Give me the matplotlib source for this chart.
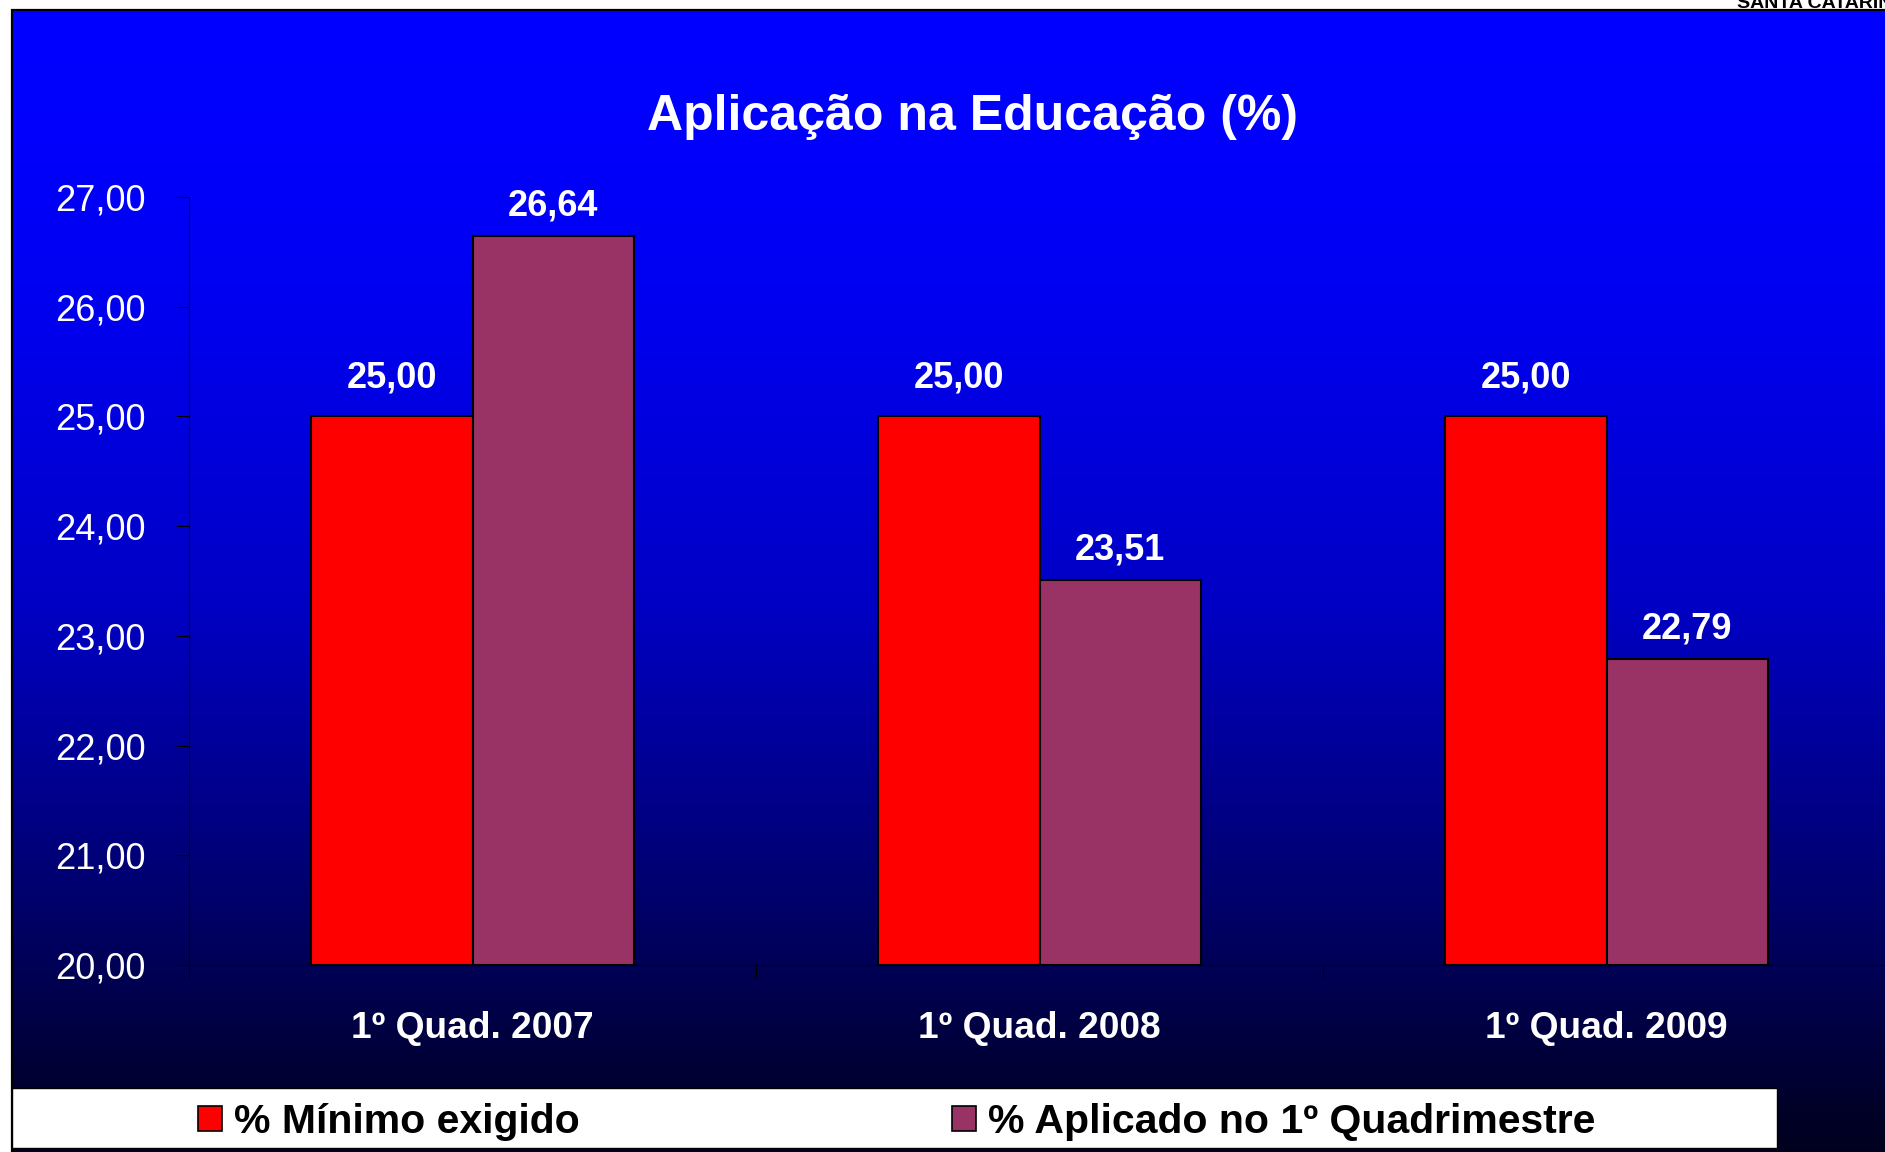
import numpy as np
import matplotlib
matplotlib.use("Agg")
import matplotlib.pyplot as plt
from matplotlib.patches import Patch, Rectangle

categories = ["1º Quad. 2007", "1º Quad. 2008", "1º Quad. 2009"]
minimo_exigido = [25.00, 25.00, 25.00]
aplicado = [26.64, 23.51, 22.79]
series_names = ["% Mínimo exigido", "% Aplicado no 1º Quadrimestre"]
y_ticks = [20, 21, 22, 23, 24, 25, 26, 27]
title = "Aplicação na Educação (%)"


def br(v):
    return f"{v:.2f}".replace(".", ",")


plt.rcParams["font.family"] = ["Liberation Sans", "DejaVu Sans"]

W, H = 1885, 1152
fig = plt.figure(figsize=(W / 100, H / 100), dpi=100)
fig.patch.set_facecolor("white")

# -----background panel (blue -> black gradient)-----
px_left, px_top = 12, 10
bg = fig.add_axes([px_left / W, 0, 1 - px_left / W, (H - px_top) / H], zorder=0)
rows = np.arange(px_top, H)
blue = np.interp(rows, [10, 150, 310, 610, 890, 1110, 1152],
                 [255, 252, 240, 195, 110, 40, 30]) / 255.0
grad = np.zeros((len(rows), 1, 3))
grad[:, 0, 2] = blue
bg.imshow(grad, aspect="auto", extent=[0, 1, 0, 1], interpolation="bilinear")
bg.set_xlim(0, 1)
bg.set_ylim(0, 1)
bg.axis("off")
fig.add_artist(Rectangle((px_left / W, -0.01), 1.0, (H - px_top) / H + 0.01,
                         transform=fig.transFigure, facecolor="none",
                         edgecolor="black", linewidth=1.6, zorder=1))

# header text of the page, cut off at the top edge like in the original
fig.text(1737 / W, 1 - 8 / H, "SANTA CATARINA", fontsize=14, fontweight="bold",
         color="black", ha="left", va="baseline")

# -----main chart-----
ax = fig.add_axes([189 / W, (H - 965) / H, (1890 - 189) / W, (965 - 197) / H], zorder=2)
ax.patch.set_alpha(0)

x = np.arange(len(categories))
bw = 0.284
ax.bar(x - bw / 2, [v - 20 for v in minimo_exigido], bw, bottom=20,
       color="#ff0000", edgecolor="black", linewidth=1.5, label=series_names[0])
ax.bar(x + bw / 2, [v - 20 for v in aplicado], bw, bottom=20,
       color="#993366", edgecolor="black", linewidth=1.5, label=series_names[1])

for xs, vals, off in ((x - bw / 2, minimo_exigido, 21), (x + bw / 2, aplicado, 15)):
    for xi, v in zip(xs, vals):
        ax.annotate(br(v), (xi, v), xytext=(0, off), textcoords="offset points",
                    ha="center", va="baseline", color="white",
                    fontsize=26, fontweight="bold")

ax.set_xlim(-0.5, 2.5)
ax.set_ylim(20, 27)
ax.set_yticks(y_ticks)
ax.set_yticklabels([br(v) for v in y_ticks])
ax.set_xticks(np.arange(len(categories) + 1) - 0.5)
ax.set_xticklabels([])
ax.set_xticks(x, minor=True)
ax.set_xticklabels(categories, minor=True)

ax.tick_params(axis="y", direction="out", length=9.4, width=0.8, color="black",
               labelcolor="white", labelsize=26, pad=22)
ax.tick_params(axis="x", which="major", direction="out", length=9.4, width=0.8,
               color="black")
ax.tick_params(axis="x", which="minor", length=0, labelcolor="white",
               labelsize=26.7, pad=33)
for lab in ax.get_xticklabels(minor=True):
    lab.set_fontweight("bold")

for s in ("top", "right"):
    ax.spines[s].set_visible(False)
for s in ("left", "bottom"):
    ax.spines[s].set_color("black")
    ax.spines[s].set_linewidth(0.8)

fig.text(972 / W, 1 - 130 / H, title, ha="center", va="baseline", color="white",
         fontsize=36, fontweight="bold")

# -----legend-----
fig.add_artist(Rectangle((12 / W, (H - 1148) / H), (1777 - 12) / W, 60 / H,
                         transform=fig.transFigure, facecolor="white",
                         edgecolor="black", linewidth=1.0, zorder=3))
handles = [Patch(facecolor="#ff0000", edgecolor="black", linewidth=1.2),
           Patch(facecolor="#993366", edgecolor="black", linewidth=1.2)]
leg = fig.legend(handles, series_names, loc="center",
                 bbox_to_anchor=((12 + 1777) / 2 / W + 2 / W, (H - 1122) / H),
                 ncol=2, frameon=False, handlelength=0.585, handleheight=0.585,
                 handletextpad=0.29, columnspacing=9.1,
                 prop={"weight": "bold", "size": 29.5, "family": "Liberation Sans"})
leg.set_zorder(4)

fig.savefig("out.png", dpi=100)
